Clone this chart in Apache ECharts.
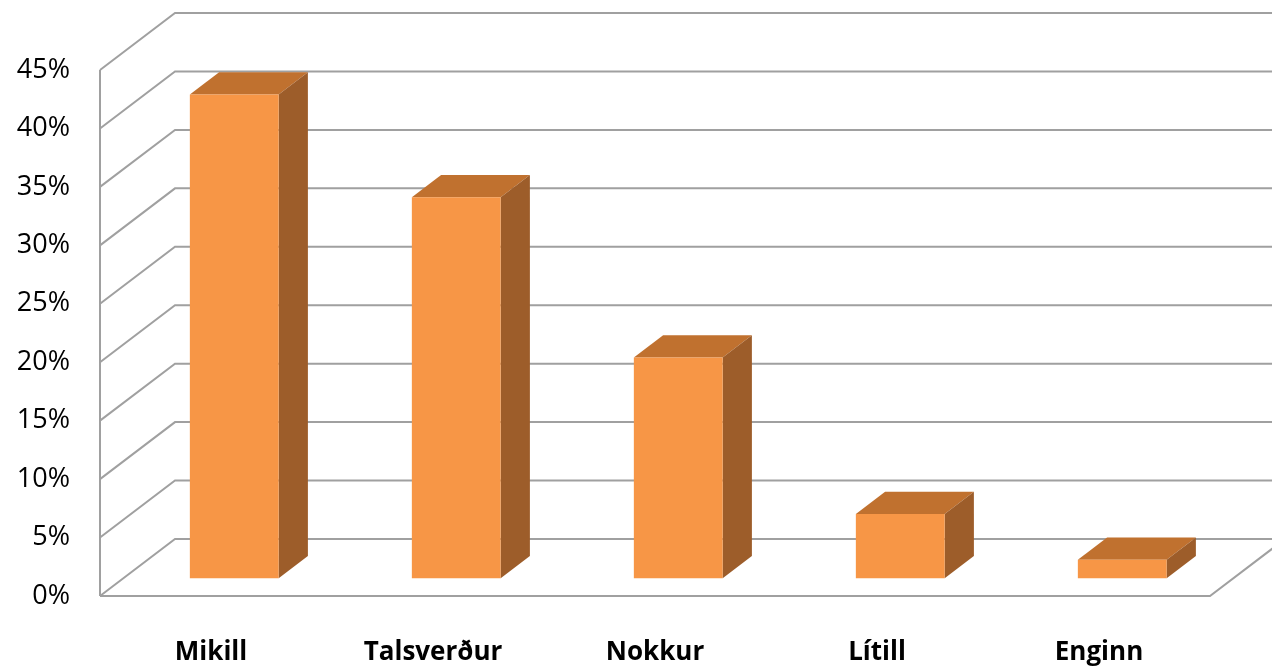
<!DOCTYPE html>
<html>
<head>
<meta charset="utf-8">
<script src="https://cdn.jsdelivr.net/npm/echarts@6/dist/echarts.min.js"></script>
<style>
  html, body { margin: 0; padding: 0; background: #fff; }
  #main { width: 1272px; height: 667px; }
</style>
</head>
<body>
<div id="main"></div>
<script>
// flokkar og gildi (%)
var categories = ['Mikill', 'Talsverður', 'Nokkur', 'Lítill', 'Enginn'];
var values = [41.4, 32.6, 18.9, 5.5, 1.6];
var yTicks = [0, 5, 10, 15, 20, 25, 30, 35, 40, 45];

// 3D "dýpt" veggja og súlna (pixlar)
var DX = 75, DY = -57;
var F1 = 0.31, F2 = 0.70;   // framhlið / bakhlið súlu sem hlutfall af dýpt
var lineColor = '#a0a0a0';

var chart = echarts.init(document.getElementById('main'));

var option = {
    animation: false,
    grid: { left: 100, right: 62, top: 70, bottom: 71 },
    xAxis: {
        type: 'category',
        data: categories,
        axisLine: { show: false },
        axisTick: { show: false },
        axisLabel: {
            margin: 44,
            fontFamily: 'Open Sans',
            fontWeight: 'bold',
            fontSize: 26,
            color: '#000'
        }
    },
    yAxis: {
        type: 'value',
        min: 0,
        max: 45,
        interval: 5,
        axisLine: { show: false },
        axisTick: { show: false },
        splitLine: { show: false },
        axisLabel: {
            margin: 30,
            padding: [8, 0, 0, 0],
            formatter: '{value}%',
            fontFamily: 'Open Sans',
            fontSize: 27,
            color: '#000'
        }
    },
    series: [{
        // veggir og gólf
        type: 'custom',
        z: 1,
        silent: true,
        data: yTicks.map(function (v) { return [0, v]; }),
        renderItem: function (params, api) {
            var cs = params.coordSys;
            var v = api.value(1);
            var y = api.coord([0, v])[1];
            var x0 = cs.x;
            var style = { stroke: lineColor, lineWidth: 2, fill: null };
            var children = [{
                type: 'polyline',
                shape: { points: [[x0, y], [x0 + DX, y + DY], [1280, y + DY]] },
                style: style
            }];
            if (v === 0) {
                children.push({
                    type: 'polyline',
                    shape: { points: [[x0, y], [x0 + cs.width, y], [x0 + cs.width + DX, y + DY]] },
                    style: style
                });
                children.push({
                    type: 'line',
                    shape: { x1: x0, y1: y, x2: x0, y2: cs.y },
                    style: style
                });
            }
            return { type: 'group', children: children };
        }
    }, {
        // súlur
        type: 'custom',
        z: 5,
        data: values.map(function (v, i) { return [i, v]; }),
        renderItem: function (params, api) {
            var top = api.coord([api.value(0), api.value(1)]);
            var base = api.coord([api.value(0), 0]);
            var w = api.size([1, 0])[0] * 0.4;
            var x1 = top[0] - w / 2 + F1 * DX;
            var x2 = x1 + w;
            var yt = top[1] + F1 * DY;
            var yb = base[1] + F1 * DY;
            var ddx = (F2 - F1) * DX, ddy = (F2 - F1) * DY;
            return {
                type: 'group',
                children: [{
                    type: 'polygon',
                    shape: { points: [[x1, yt], [x2, yt], [x2 + ddx, yt + ddy], [x1 + ddx, yt + ddy]] },
                    style: { fill: '#c0712f' }
                }, {
                    type: 'polygon',
                    shape: { points: [[x2, yt], [x2 + ddx, yt + ddy], [x2 + ddx, yb + ddy], [x2, yb]] },
                    style: { fill: '#9d5d2a' }
                }, {
                    type: 'rect',
                    shape: { x: x1, y: yt, width: w, height: yb - yt },
                    style: { fill: '#f79646' }
                }]
            };
        }
    }]
};

chart.setOption(option);
</script>
</body>
</html>
